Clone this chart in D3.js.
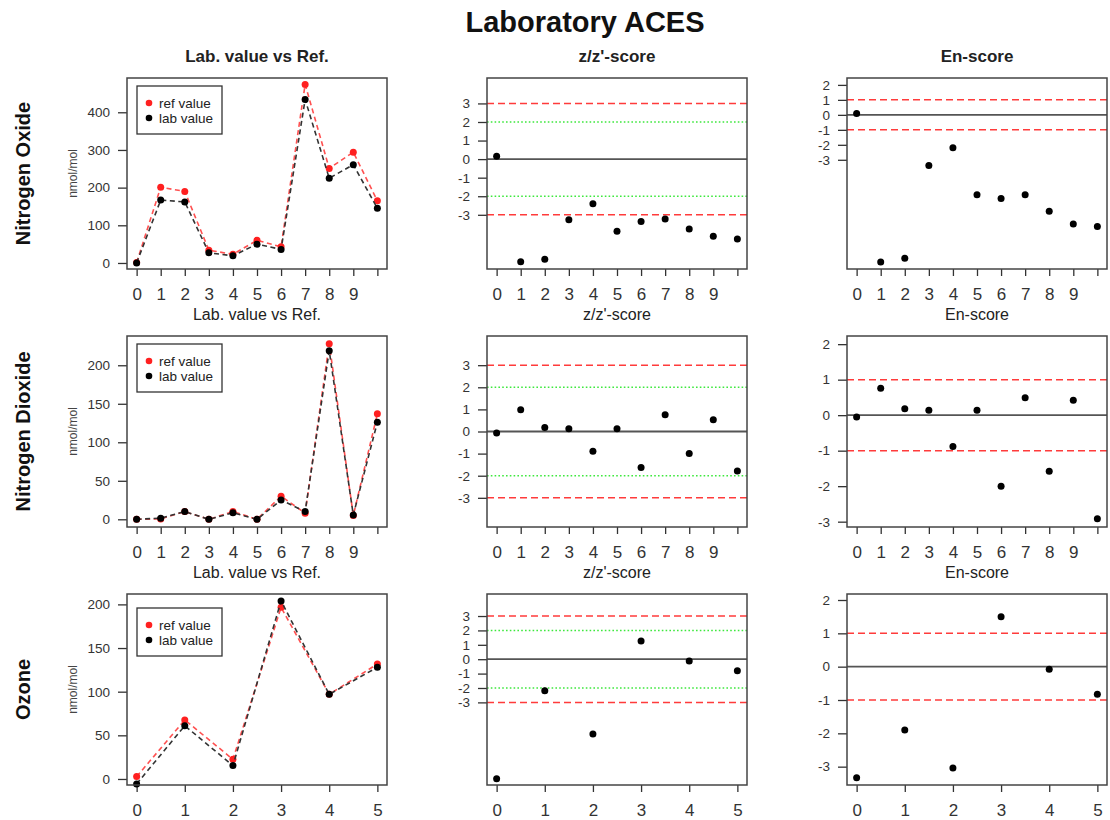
<!DOCTYPE html>
<html>
<head>
<meta charset="utf-8">
<script src="https://cdn.jsdelivr.net/npm/d3@7"></script>
<style>
  body { margin: 0; background: #fff; }
  text { font-family: "Liberation Sans", Arial, sans-serif; }
</style>
</head>
<body>
<svg id="chart" width="1110" height="820"></svg>
<script>
// ---- data -------------------------------------------------------------
const pollutants = ["Nitrogen Oxide", "Nitrogen Dioxide", "Ozone"];
const unitLabel = "nmol/mol";
const columnTitles = ["Lab. value vs Ref.", "z/z'-score", "En-score"];
const mainTitle = "Laboratory ACES";

// Nitrogen Oxide, samples 0..10
const noRef = [1, 201, 190, 34, 23, 60, 43, 474, 251, 294, 165];
const noLab = [0, 167, 162, 27, 19, 50, 36, 434, 225, 261, 145];
const noZ   = [0.16, -5.53, -5.40, -3.27, -2.40, -3.88, -3.36, -3.22, -3.76, -4.15, -4.30];
const noEn  = [0.09, -9.82, -9.57, -3.38, -2.19, -5.34, -5.59, -5.34, -6.44, -7.29, -7.45];

// Nitrogen Dioxide, samples 0..10
const no2Ref = [0, 0.5, 10, 0, 10, 0, 30, 8, 228, 5, 137];
const no2Lab = [0, 1.5, 10, 0, 8.5, 0, 25, 10, 219, 5.6, 126];
const no2Z   = [-0.07, 0.98, 0.18, 0.12, -0.89, 0.12, -1.63, 0.76, -0.99, 0.53, -1.79];
const no2En  = [-0.05, 0.76, 0.18, 0.14, -0.88, 0.14, -2.00, 0.49, -1.58, 0.42, -2.92];

// Ozone, samples 0..5
const o3Ref = [2.7, 67.6, 22.5, 196.6, 97, 131.7];
const o3Lab = [-5.7, 61, 15.3, 204, 97, 128];
const o3Z   = [-8.30, -2.20, -5.19, 1.27, -0.12, -0.81];
const o3En  = [-3.33, -1.90, -3.04, 1.50, -0.08, -0.83];

// x tick labels (last NO / NO2 tick is left unlabelled)
const xLabels11 = ["0", "1", "2", "3", "4", "5", "6", "7", "8", "9", ""];
const xLabels6  = ["0", "1", "2", "3", "4", "5"];

// y tick values and axis limits
const valueTicks = [[0, 100, 200, 300, 400], [0, 50, 100, 150, 200], [0, 50, 100, 150, 200]];
const zTicks  = [-3, -2, -1, 0, 1, 2, 3];
const enTicks = [-3, -2, -1, 0, 1, 2];
const valueLimits = [[-16, 491], [-10, 238], [-6.9, 211.9]];
const zLimits  = [[-5.92, 4.37], [-4.32, 4.32], [-8.74, 4.53]];
const enLimits = [[-10.29, 2.46], [-3.15, 2.23], [-3.55, 2.18]];
const zBands  = [{ v: 3, kind: "action" }, { v: -3, kind: "action" }, { v: 2, kind: "warn" }, { v: -2, kind: "warn" }];
const enBands = [{ v: 1, kind: "action" }, { v: -1, kind: "action" }];

const rows = [
  { ref: noRef,  lab: noLab,  z: noZ,  en: noEn,  xl: xLabels11 },
  { ref: no2Ref, lab: no2Lab, z: no2Z, en: no2En, xl: xLabels11 },
  { ref: o3Ref,  lab: o3Lab,  z: o3Z,  en: o3En,  xl: xLabels6 }
];

// ---- layout -----------------------------------------------------------
const colX = [127, 487, 847];
const rowY = [78, 336, 594];
const PW = 260, PH = 191;
const legendTop = [8, 8, 14];

const svg = d3.select("#chart");
const INK = "#333";

svg.append("text")
  .attr("x", 585).attr("y", 32)
  .attr("text-anchor", "middle")
  .attr("font-size", 29).attr("font-weight", "bold")
  .attr("fill", "#111")
  .text(mainTitle);

function panel(r, c, values, limits, ticks, xl) {
  const x0 = colX[c], y0 = rowY[r];
  const n = values.length;
  const g = svg.append("g").attr("transform", `translate(${x0},${y0})`);
  const x = d3.scaleLinear().domain([-(n - 1) * 0.04, (n - 1) * 1.04]).range([0, PW]);
  const y = d3.scaleLinear().domain(limits).range([PH, 0]);

  // title
  g.append("text")
    .attr("x", PW / 2).attr("y", -16)
    .attr("text-anchor", "middle")
    .attr("font-size", r === 0 ? 17 : 16)
    .attr("font-weight", r === 0 ? "bold" : "normal")
    .attr("fill", "#222")
    .text(columnTitles[c]);

  // y axis
  const ya = g.append("g").call(d3.axisLeft(y).tickValues(ticks).tickSize(9).tickPadding(8)
      .tickFormat(d => String(d)));
  ya.select(".domain").remove();
  ya.selectAll("line").attr("stroke", INK).attr("stroke-width", 1.3);
  ya.selectAll("text").attr("font-size", 13.5).attr("fill", INK)
    .attr("font-family", '"Liberation Sans", Arial, sans-serif');

  // x axis
  const xa = g.append("g").attr("transform", `translate(0,${PH})`)
    .call(d3.axisBottom(x).tickValues(d3.range(n)).tickSize(7).tickPadding(12)
      .tickFormat((d, i) => xl[i]));
  xa.select(".domain").remove();
  xa.selectAll("line").attr("stroke", INK).attr("stroke-width", 1.3);
  xa.selectAll("text").attr("font-size", 17).attr("fill", INK)
    .attr("font-family", '"Liberation Sans", Arial, sans-serif');

  return { g, x, y };
}

function box(g) {
  g.append("rect").attr("x", 0).attr("y", 0).attr("width", PW).attr("height", PH)
    .attr("fill", "none").attr("stroke", "#444").attr("stroke-width", 1.5);
}

function scorePanel(r, c, values, limits, ticks, bands, xl) {
  const { g, x, y } = panel(r, c, values, limits, ticks, xl);
  const clip = "clip-" + r + "-" + c;
  g.append("clipPath").attr("id", clip).append("rect").attr("width", PW).attr("height", PH);
  const inner = g.append("g").attr("clip-path", `url(#${clip})`);

  inner.selectAll("line.band").data(bands).join("line")
    .attr("class", "band")
    .attr("x1", 0).attr("x2", PW)
    .attr("y1", d => y(d.v)).attr("y2", d => y(d.v))
    .attr("stroke", d => d.kind === "action" ? "#ff3b3b" : "#3ee83e")
    .attr("stroke-width", 1.5)
    .attr("stroke-dasharray", d => d.kind === "action" ? "7,4" : "1.6,2.2");
  inner.append("line")
    .attr("x1", 0).attr("x2", PW).attr("y1", y(0)).attr("y2", y(0))
    .attr("stroke", "#555").attr("stroke-width", 1.8);

  g.selectAll("circle.pt").data(values).join("circle")
    .attr("class", "pt")
    .attr("cx", (d, i) => x(i)).attr("cy", d => y(d)).attr("r", 3.5)
    .attr("fill", "#000");
  box(g);
}

function valuePanel(r, row) {
  const { g, x, y } = panel(r, 0, row.ref, valueLimits[r], valueTicks[r], row.xl);
  const line = d3.line().x((d, i) => x(i)).y(d => y(d));
  const series = [
    { vals: row.ref, color: "#ff2020", dash: "5,3.5", lineColor: "#ff5050" },
    { vals: row.lab, color: "#000", dash: "5,3.5", lineColor: "#333" }
  ];
  series.forEach(s => {
    g.append("path").attr("d", line(s.vals))
      .attr("fill", "none").attr("stroke", s.lineColor)
      .attr("stroke-width", 1.6).attr("stroke-dasharray", s.dash);
    g.selectAll(null).data(s.vals).join("circle")
      .attr("cx", (d, i) => x(i)).attr("cy", d => y(d)).attr("r", 3.5)
      .attr("fill", s.color);
  });
  box(g);

  // legend
  const lg = g.append("g").attr("transform", `translate(10,${legendTop[r]})`);
  lg.append("rect").attr("width", 85).attr("height", 48)
    .attr("fill", "#fff").attr("stroke", "#333").attr("stroke-width", 1.3);
  const items = [{ label: "ref value", color: "#ff2020" }, { label: "lab value", color: "#000" }];
  items.forEach((it, i) => {
    lg.append("circle").attr("cx", 12).attr("cy", 17 + i * 15).attr("r", 3.3).attr("fill", it.color);
    lg.append("text").attr("x", 22).attr("y", 17 + i * 15).attr("dy", "0.35em")
      .attr("font-size", 13.5).attr("fill", "#222").text(it.label);
  });

  // unit label
  svg.append("text")
    .attr("transform", `translate(73,${rowY[r] + PH / 2}) rotate(-90)`)
    .attr("text-anchor", "middle").attr("dy", "0.35em")
    .attr("font-size", 12).attr("fill", "#444")
    .text(unitLabel);

  // row label
  svg.append("text")
    .attr("transform", `translate(23,${rowY[r] + PH / 2}) rotate(-90)`)
    .attr("text-anchor", "middle").attr("dy", "0.35em")
    .attr("font-size", 20).attr("font-weight", "bold").attr("fill", "#111")
    .text(pollutants[r]);
}

rows.forEach((row, r) => {
  valuePanel(r, row);
  scorePanel(r, 1, row.z, zLimits[r], zTicks, zBands, row.xl);
  scorePanel(r, 2, row.en, enLimits[r], enTicks, enBands, row.xl);
});
</script>
</body>
</html>
